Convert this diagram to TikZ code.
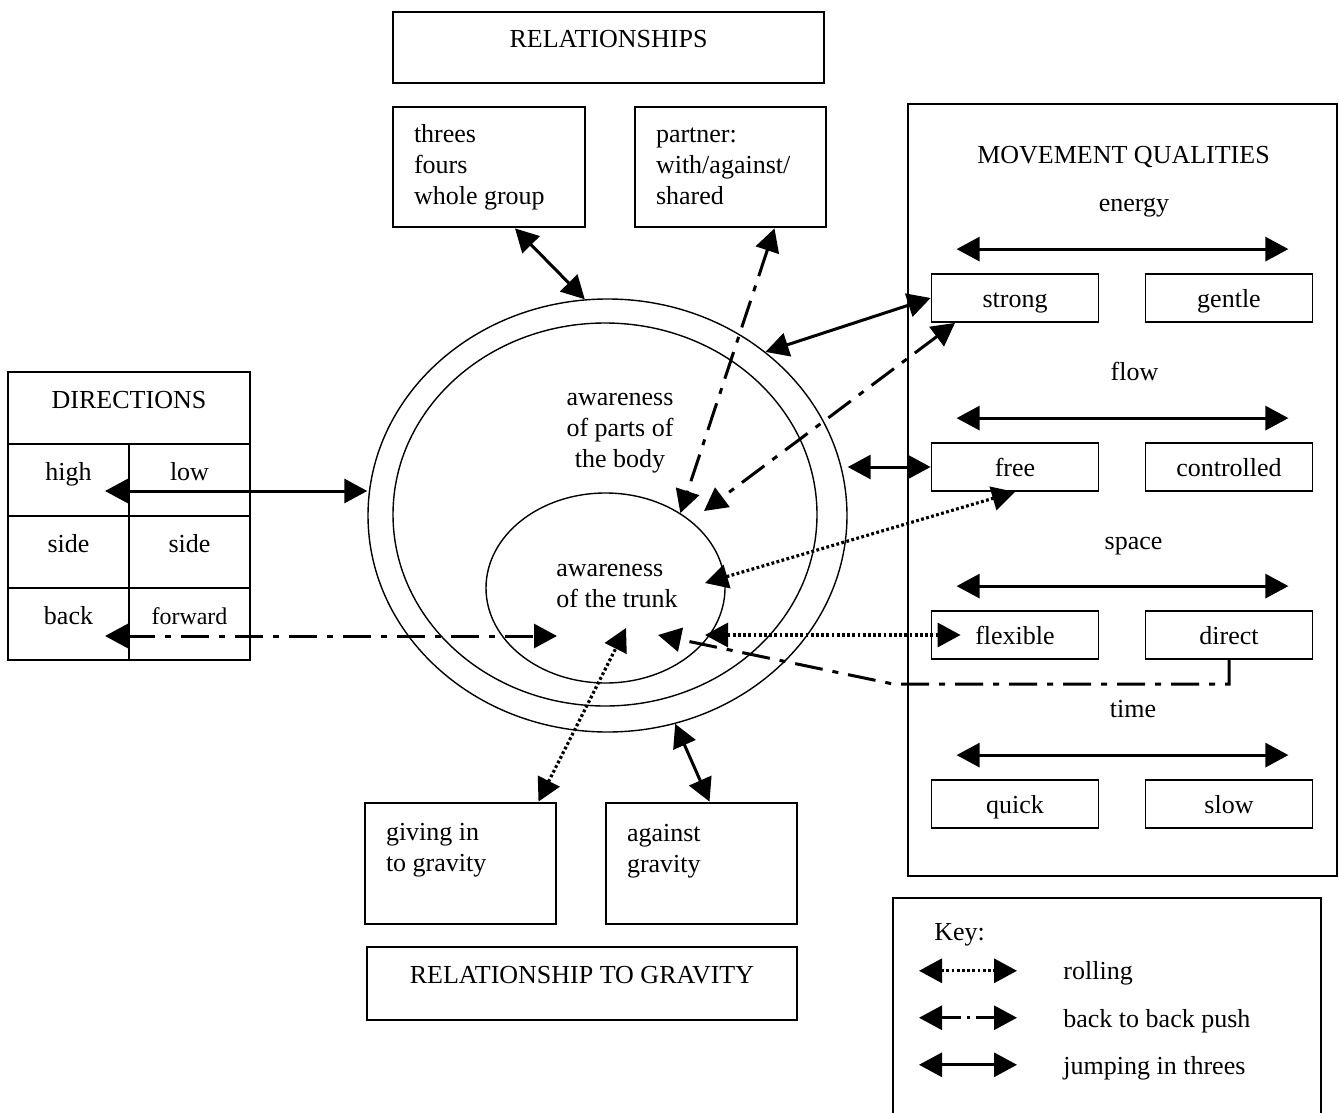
\documentclass[tikz,border=0pt]{standalone}
\usepackage{fontspec}
\setmainfont{Liberation Serif}
\usetikzlibrary{arrows.meta,positioning,shapes.geometric,calc}

\tikzset{
  bigbox/.style={draw,line width=1.4pt,inner sep=0pt},
  qualbox/.style={draw,line width=0.9pt,minimum width=83.5pt,minimum height=24pt,text height=9.5pt,text depth=0.5pt,inner sep=0pt},
  cell/.style={draw,line width=1.3pt,minimum width=60.5pt,minimum height=36pt,text height=6pt,text depth=6pt,inner sep=0pt},
  ring/.style={draw,ellipse,line width=0.7pt,inner sep=0pt},
  boxtext/.style={anchor=north west,align=left,inner sep=0pt,xshift=11pt,yshift=-9pt},
  txt/.style={inner sep=0pt},
  jumpline/.style={line width=1.5pt},
  rollline/.style={line width=1.6pt,dash pattern=on 1.4pt off 1.2pt},
  pushline/.style={line width=1.5pt,dash pattern=on 14pt off 5pt on 3pt off 5pt}
}

\begin{document}
\begin{tikzpicture}[x=0.5pt,y=-0.5pt,font=\fontsize{13}{15.5}\selectfont,>={Triangle[length=11.5pt,width=12pt]}]
  \useasboundingbox (0,0) rectangle (1339,1113);
  % relationships
  \node[bigbox,minimum width=215.5pt,minimum height=35.5pt,text height=6pt,text depth=6pt] (rel) at (608.5,47.5) {RELATIONSHIPS};
  \node[bigbox,minimum width=96pt,minimum height=60pt,label={[boxtext]north west:{threes\\fours\\whole group}}] (threes) at (489,167) {};
  \node[bigbox,minimum width=95.5pt,minimum height=60pt,label={[boxtext,yshift=-2pt]north west:{partner:\\with/against/\\shared}}] (partner) at (730.5,167) {};
  % gravity
  \node[bigbox,minimum width=95.5pt,minimum height=60.5pt,label={[boxtext,yshift=-1.5pt]north west:{giving in\\to gravity}}] (giving) at (460.5,863.5) {};
  \node[bigbox,minimum width=95.5pt,minimum height=60.5pt,label={[boxtext,yshift=-2pt]north west:{against\\gravity}}] (against) at (701.5,863.5) {};
  \node[bigbox,minimum width=215pt,minimum height=36.5pt,text height=6pt,text depth=6pt] (gravity) at (582,983.5) {RELATIONSHIP TO GRAVITY};
  % directions table
  \node[cell,minimum width=121pt] (dirs) at (129,408) {DIRECTIONS};
  \node[cell] (high) at (68.5,480) {high};
  \node[cell] (low) at (189.5,480) {low};
  \node[cell] (sidea) at (68.5,552) {side};
  \node[cell] (sideb) at (189.5,552) {side};
  \node[cell] (back) at (68.5,624) {back};
  \node[cell,font=\fontsize{12}{14}\selectfont] (fwd) at (189.5,624) {forward};
  % body awareness
  \node[ring,minimum width=239.5pt,minimum height=216.5pt] (outer) at (607.5,515.5) {};
  \node[ring,minimum width=212pt,minimum height=191.5pt] (inner) at (605,514.5) {};
  \node[ring,minimum width=119.5pt,minimum height=95pt] (trunk) at (605.5,588) {};
  \node[txt,align=center] (bodytxt) at (620,433) {awareness\\of parts of\\the body};
  \node[txt,align=left,anchor=west] (trunktxt) at (556,586) {awareness\\of the trunk};
  % movement qualities
  \node[bigbox,minimum width=214.5pt,minimum height=386pt] (mq) at (1122.5,490) {};
  \node[txt,anchor=base] (mqtitle) at (1123.5,163) {MOVEMENT QUALITIES};
  \node[txt,anchor=base] (energy) at (1134,212) {energy};
  \node[txt,anchor=base] (flow) at (1134.5,380) {flow};
  \node[txt,anchor=base] (space) at (1133.5,549) {space};
  \node[txt,anchor=base] (time) at (1133,717) {time};
  \node[qualbox] (strong) at (1015,298) {strong};
  \node[qualbox] (gentle) at (1229,298) {gentle};
  \node[qualbox] (free) at (1015,467) {free};
  \node[qualbox] (controlled) at (1229,467) {controlled};
  \node[qualbox] (flexible) at (1015,635) {flexible};
  \node[qualbox] (direct) at (1229,635) {direct};
  \node[qualbox] (quick) at (1015,804) {quick};
  \node[qualbox] (slow) at (1229,804) {slow};
  \draw[jumpline,<->] ([shift={(13pt,12pt)}]strong.north west) -- ([shift={(-12.5pt,12pt)}]gentle.north east);
  \draw[jumpline,<->] ([shift={(13pt,12pt)}]free.north west) -- ([shift={(-12.5pt,12pt)}]controlled.north east);
  \draw[jumpline,<->] ([shift={(13pt,12pt)}]flexible.north west) -- ([shift={(-12.5pt,12pt)}]direct.north east);
  \draw[jumpline,<->] ([shift={(13pt,12pt)}]quick.north west) -- ([shift={(-12.5pt,12pt)}]slow.north east);
  % key
  \node[draw,line width=0.8pt,minimum width=214pt,minimum height=111pt] (keybox) at (1107,1009) {};
  \node[txt,anchor=base west] (keytitle) at (934,940) {Key:};
  \node[txt,anchor=base west] (keyroll) at (1063,979) {rolling};
  \node[txt,anchor=base west] (keypush) at (1063,1027) {back to back push};
  \node[txt,anchor=base west] (keyjump) at (1063,1074) {jumping in threes};
  \draw[rollline,<->] ([shift={(-72pt,1pt)}]keyroll.west) -- ([shift={(-23pt,1pt)}]keyroll.west);
  \draw[pushline,dash pattern=on 10pt off 3pt on 1.5pt off 3pt,<->] ([shift={(-72pt,1.5pt)}]keypush.west) -- ([shift={(-23pt,1.5pt)}]keypush.west);
  \draw[jumpline,<->] ([shift={(-72pt,1.5pt)}]keyjump.west) -- ([shift={(-23pt,1.5pt)}]keyjump.west);
  % free ends
  \coordinate (hightip) at (105,491);
  \coordinate (backtip) at (105,636);
  \coordinate (backend) at (557,636);
  \coordinate (strongend) at (704,511);
  \coordinate (freeend) at (705,583);
  \coordinate (flexend) at (705,635);
  \coordinate (bend) at (893,684);
  \coordinate (directend) at (658,635);
  \coordinate (givingend) at (626,628);
  % connectors
  \draw[jumpline,<->] ([xshift=13pt]threes.south) -- (outer.96.7);
  \draw[pushline,<->] ([xshift=22pt]partner.south) -- (trunk.45.6);
  \draw[jumpline,<->] (strong.west) -- (outer.46.6);
  \draw[pushline,<->] ([xshift=-30pt]strong.south) -- (strongend);
  \draw[jumpline,<->] (free.west) -- (free.west -| outer.east);
  \draw[rollline,<->] (free.south) -- (freeend);
  \draw[rollline,<->] ([xshift=15pt]flexible.west) -- (flexend);
  \draw[pushline,->] (direct.south) |- (bend) -- (directend);
  \draw[jumpline,<->] (hightip) -- (hightip -| outer.west);
  \draw[pushline,<->] (backtip) -- (backend);
  \draw[rollline,<->] ([xshift=39pt]giving.north) -- (givingend);
  \draw[jumpline,<->] ([xshift=4pt]against.north) -- (outer.-72.9);
\end{tikzpicture}
\end{document}
